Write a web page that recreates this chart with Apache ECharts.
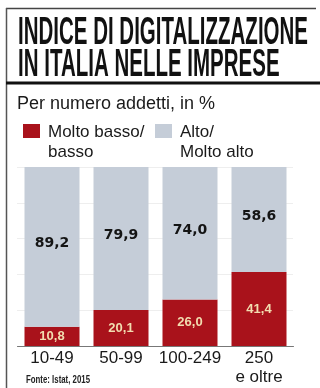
<!DOCTYPE html>
<html>
<head>
<meta charset="utf-8">
<script src="https://cdn.jsdelivr.net/npm/echarts@6/dist/echarts.min.js"></script>
<style>
  html, body { margin: 0; padding: 0; background: #fff; }
  #main { width: 320px; height: 388px; }
</style>
</head>
<body>
<div id="main"></div>
<script>
const titleLines = ['INDICE DI DIGITALIZZAZIONE', 'IN ITALIA NELLE IMPRESE'];
const subtitle = 'Per numero addetti, in %';
const categories = ['10-49', '50-99', '100-249', '250\ne oltre'];
const seriesNames = ['Molto basso/\nbasso', 'Alto/\nMolto alto'];
const lowValues = [10.8, 20.1, 26.0, 41.4];
const highValues = [89.2, 79.9, 74.0, 58.6];
const sourceText = 'Fonte: Istat, 2015';

const redColor = '#a9121b';
const blueColor = '#c5cdd8';

var chartDom = document.getElementById('main');
var myChart = echarts.init(chartDom);
var option;

// squeeze text horizontally to mimic the condensed newspaper font
const measureCtx = document.createElement('canvas').getContext('2d');
function fitScale(text, font, width) {
  measureCtx.font = font;
  return width / measureCtx.measureText(text).width;
}

const titleFont = 'bold 38px "Liberation Sans"';
const titleScale = fitScale(titleLines[0], titleFont, 290);
const sourceFont = 'bold 10px "Liberation Sans"';
const sourceScale = fitScale(sourceText, sourceFont, 64);

function fmt(v) {
  return v.toFixed(1).replace('.', ',');
}

function titleText(text, y) {
  return {
    type: 'text',
    x: 18,
    y: y,
    scaleX: titleScale,
    style: {
      text: text,
      x: 0,
      y: 0,
      font: titleFont,
      fill: '#111',
      textAlign: 'left',
      textVerticalAlign: 'middle'
    }
  };
}

function legendItem(x, color, name) {
  return [
    { type: 'rect', shape: { x: x, y: 124, width: 17, height: 14 }, style: { fill: color } },
    {
      type: 'text',
      style: {
        text: name,
        x: x + 25,
        y: 122,
        font: '17px "Liberation Sans"',
        lineHeight: 20,
        fill: '#1a1a1a',
        textAlign: 'left',
        textVerticalAlign: 'top'
      }
    }
  ];
}

option = {
  animation: false,
  grid: {
    left: 17.5,
    right: 26.5,
    top: 167,
    bottom: 42
  },
  xAxis: {
    type: 'category',
    data: categories,
    axisLine: { lineStyle: { color: '#777', width: 1 } },
    axisTick: { show: false },
    axisLabel: {
      interval: 0,
      color: '#1a1a1a',
      fontFamily: 'Liberation Sans',
      fontSize: 17,
      lineHeight: 19,
      margin: 3
    }
  },
  yAxis: {
    type: 'value',
    min: 0,
    max: 100,
    interval: 20,
    axisLabel: { show: false },
    axisLine: { show: false },
    axisTick: { show: false },
    splitLine: { lineStyle: { color: '#ddd', type: 'dotted' } }
  },
  series: [
    {
      name: seriesNames[0],
      type: 'bar',
      stack: 'tot',
      barWidth: 55,
      data: lowValues,
      itemStyle: { color: redColor },
      label: {
        show: true,
        position: 'inside',
        formatter: p => fmt(p.value),
        color: '#f2ddb0',
        fontFamily: 'Liberation Sans',
        fontWeight: 'bold',
        fontSize: 13
      }
    },
    {
      name: seriesNames[1],
      type: 'bar',
      stack: 'tot',
      barWidth: 55,
      data: highValues,
      itemStyle: { color: blueColor },
      label: {
        show: true,
        position: 'inside',
        offset: [0, -3],
        formatter: p => fmt(p.value),
        color: '#141414',
        fontFamily: 'DejaVu Sans',
        fontWeight: 'bold',
        fontSize: 14
      }
    }
  ],
  graphic: [
    // frame
    { type: 'line', shape: { x1: 6, y1: 8.5, x2: 316, y2: 8.5 }, style: { stroke: '#444', lineWidth: 1.5 } },
    { type: 'line', shape: { x1: 6.5, y1: 8, x2: 6.5, y2: 388 }, style: { stroke: '#555', lineWidth: 1.5 } },
    { type: 'line', shape: { x1: 6, y1: 83, x2: 320, y2: 83 }, style: { stroke: '#111', lineWidth: 3 } },
    titleText(titleLines[0], 34),
    titleText(titleLines[1], 66),
    {
      type: 'text',
      style: {
        text: subtitle,
        x: 17,
        y: 104,
        font: '18px "Liberation Sans"',
        fill: '#1a1a1a',
        textAlign: 'left',
        textVerticalAlign: 'middle'
      }
    },
    ...legendItem(23, redColor, seriesNames[0]),
    ...legendItem(155, blueColor, seriesNames[1]),
    {
      type: 'text',
      x: 26,
      y: 380,
      scaleX: sourceScale,
      style: {
        text: sourceText,
        x: 0,
        y: 0,
        font: sourceFont,
        fill: '#222',
        textAlign: 'left',
        textVerticalAlign: 'middle'
      }
    }
  ]
};

option && myChart.setOption(option);
</script>
</body>
</html>
